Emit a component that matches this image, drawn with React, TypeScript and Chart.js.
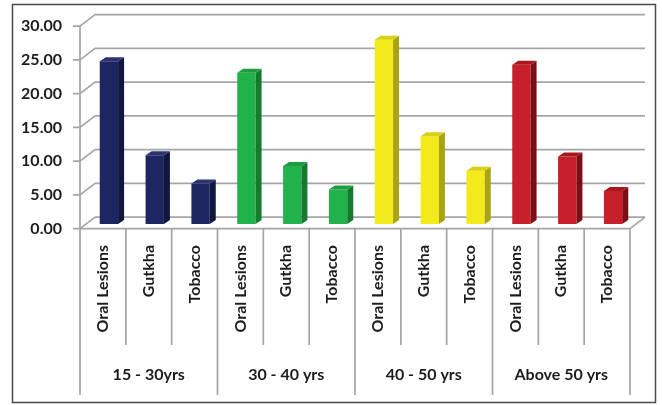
import React, { useEffect, useRef } from "react";
import { Chart, registerables } from "chart.js";

Chart.register(...registerables);

// Age groups and the three measures shown for each one
const ageGroups = ["15 - 30yrs", "30 - 40 yrs", "40 - 50 yrs", "Above 50 yrs"];
const measures = ["Oral Lesions", "Gutkha", "Tobacco"];

// Percentages per measure (Oral Lesions, Gutkha, Tobacco)
const age15to30 = [24.1, 10.2, 6.0];
const age30to40 = [22.4, 8.6, 5.1];
const age40to50 = [27.3, 13.0, 7.9];
const ageAbove50 = [23.6, 10.0, 4.9];

const yTicks = [0, 5, 10, 15, 20, 25, 30];

// Per-group colours: front face, side face, top face
const faceColors = ["#1e2661", "#22b24c", "#f2ea1b", "#c8202a"];
const sideColors = ["#10173f", "#137a2e", "#a9a414", "#7d0f14"];
const topColors = ["#2a3472", "#1d9c41", "#d9d013", "#a9161f"];

const groupValues = [age15to30, age30to40, age40to50, ageAbove50];
const labels = groupValues.flatMap(() => measures);
const values = groupValues.flat();
const groupOf = values.map((_, i) => Math.floor(i / measures.length));

// Floor/wall depth and where the bar plane sits inside it
const DEPTH_X = 15;
const DEPTH_Y = -11.5;
const FRONT_T = 0.4;
// Depth of each bar box
const BAR_DX = 6;
const BAR_DY = -4;

const GRID = "#a5a5a5";
const TEXT = "#1c1c1c";
const FONT_FAMILY = "Lato, 'Open Sans', sans-serif";

const wallsPlugin = {
  id: "walls3d",
  beforeDraw(chart: any) {
    const { ctx, width, height } = chart;
    ctx.save();
    ctx.fillStyle = "#ffffff";
    ctx.fillRect(0, 0, width, height);
    ctx.strokeStyle = "#4a4a4a";
    ctx.lineWidth = 1.5;
    ctx.strokeRect(12.5, 4.5, 643, 398);
    ctx.restore();
  },
  beforeDatasetsDraw(chart: any) {
    const { ctx, chartArea } = chart;
    const xs = chart.scales.x;
    const ys = chart.scales.y;
    const fdx = -FRONT_T * DEPTH_X;
    const fdy = -FRONT_T * DEPTH_Y;
    const bdx = (1 - FRONT_T) * DEPTH_X;
    const bdy = (1 - FRONT_T) * DEPTH_Y;
    const left = chartArea.left;
    const right = chartArea.right;
    const y0 = ys.getPixelForValue(0);
    const yTop = ys.getPixelForValue(yTicks[yTicks.length - 1]);

    ctx.save();
    ctx.strokeStyle = GRID;
    ctx.lineWidth = 1.7;
    ctx.lineJoin = "round";

    // tick marks, side-wall slants and back-wall gridlines
    for (const v of yTicks) {
      const py = ys.getPixelForValue(v);
      ctx.beginPath();
      ctx.moveTo(left + fdx - 7, py + fdy);
      ctx.lineTo(left + fdx, py + fdy);
      ctx.lineTo(left + bdx, py + bdy);
      ctx.lineTo(right + bdx, py + bdy);
      ctx.stroke();
    }

    // floor front edge and right slant
    ctx.beginPath();
    ctx.moveTo(left + fdx, y0 + fdy);
    ctx.lineTo(right + fdx, y0 + fdy);
    ctx.lineTo(right + bdx, y0 + bdy);
    ctx.stroke();

    // category dividers below the floor
    const step = xs.getPixelForValue(1) - xs.getPixelForValue(0);
    const start = xs.getPixelForValue(0) - step / 2 + fdx;
    for (let k = 0; k <= labels.length; k++) {
      const bx = start + k * step;
      const isGroupEdge = k % measures.length === 0;
      ctx.beginPath();
      ctx.moveTo(bx, k === 0 ? yTop + fdy : y0 + fdy);
      ctx.lineTo(bx, isGroupEdge ? 395 : 345);
      ctx.stroke();
    }

    // group labels
    ctx.fillStyle = TEXT;
    ctx.font = `bold 16px ${FONT_FAMILY}`;
    ctx.textAlign = "center";
    ctx.textBaseline = "middle";
    ageGroups.forEach((g, gi) => {
      const cx = start + (gi * measures.length + measures.length / 2) * step;
      ctx.fillText(g, cx, 375);
    });
    ctx.restore();
  },
  afterDatasetsDraw(chart: any) {
    const { ctx } = chart;
    const meta = chart.getDatasetMeta(0);
    ctx.save();
    meta.data.forEach((bar: any, i: number) => {
      const { x, y, base, width } = bar.getProps(["x", "y", "base", "width"], true);
      const x0 = x - width / 2;
      const x1 = x + width / 2;
      const g = groupOf[i];
      // side face
      ctx.fillStyle = sideColors[g];
      ctx.beginPath();
      ctx.moveTo(x1, y);
      ctx.lineTo(x1 + BAR_DX, y + BAR_DY);
      ctx.lineTo(x1 + BAR_DX, base + BAR_DY);
      ctx.lineTo(x1, base);
      ctx.closePath();
      ctx.fill();
      // top face
      ctx.fillStyle = topColors[g];
      ctx.beginPath();
      ctx.moveTo(x0, y);
      ctx.lineTo(x1, y);
      ctx.lineTo(x1 + BAR_DX, y + BAR_DY);
      ctx.lineTo(x0 + BAR_DX, y + BAR_DY);
      ctx.closePath();
      ctx.fill();
    });
    ctx.restore();
  },
};

export default function App() {
  const canvasRef = useRef<HTMLCanvasElement | null>(null);

  useEffect(() => {
    if (!canvasRef.current) return;
    const chart = new Chart(canvasRef.current, {
      type: "bar",
      data: {
        labels,
        datasets: [
          {
            data: values,
            backgroundColor: values.map((_, i) => faceColors[groupOf[i]]),
            borderWidth: 0,
            barPercentage: 0.4,
            categoryPercentage: 1,
          },
        ],
      },
      options: {
        responsive: false,
        animation: false,
        devicePixelRatio: 1,
        layout: { padding: { top: 21.5, right: 26, bottom: 0, left: 0 } },
        plugins: {
          legend: { display: false },
          tooltip: { enabled: false },
        },
        scales: {
          x: {
            type: "category",
            offset: true,
            grid: { display: false, drawTicks: false },
            border: { display: false },
            ticks: {
              autoSkip: false,
              minRotation: 90,
              maxRotation: 90,
              padding: 21,
              labelOffset: -6,
              color: TEXT,
              font: { family: FONT_FAMILY, size: 16, weight: "bold" },
            },
            afterFit: (s: any) => {
              s.height = 181;
              s.paddingLeft = 0;
              s.paddingRight = 0;
            },
          },
          y: {
            min: 0,
            max: 30,
            grid: { display: false, drawTicks: false },
            border: { display: false },
            ticks: {
              stepSize: 5,
              padding: 24,
              labelOffset: 4.6,
              color: TEXT,
              font: { family: FONT_FAMILY, size: 16, weight: "bold" },
              callback: (v: any) => Number(v).toFixed(2),
            },
            afterFit: (s: any) => {
              s.width = 86;
              s.paddingTop = 0;
              s.paddingBottom = 0;
            },
          },
        },
      },
      plugins: [wallsPlugin],
    });
    return () => chart.destroy();
  }, []);

  return (
    <div style={{ position: "fixed", left: 0, top: 0, width: 662, height: 405, background: "#fff" }}>
      <canvas ref={canvasRef} width={662} height={405} />
    </div>
  );
}
